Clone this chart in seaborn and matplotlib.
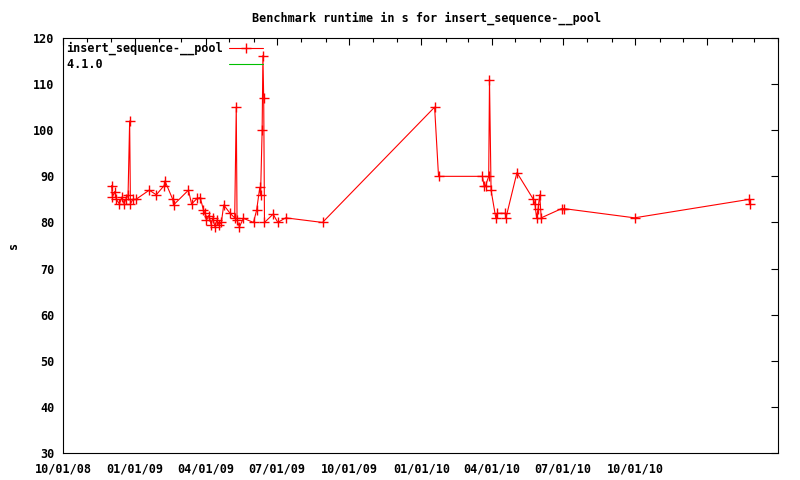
import pandas as pd
import numpy as np
import matplotlib
matplotlib.use("Agg")
import matplotlib.pyplot as plt
import matplotlib.dates as mdates
import seaborn as sns

# Data
run_dates = [
    "2008-12-02", "2008-12-03", "2008-12-06", "2008-12-08", "2008-12-12", "2008-12-15",
    "2008-12-18", "2008-12-20", "2008-12-23", "2008-12-25", "2008-12-26", "2008-12-29",
    "2009-01-02", "2009-01-19", "2009-01-28", "2009-02-07", "2009-02-08", "2009-02-18",
    "2009-02-19", "2009-03-10", "2009-03-14", "2009-03-21", "2009-03-25", "2009-03-29",
    "2009-03-31", "2009-04-02", "2009-04-05", "2009-04-08", "2009-04-10", "2009-04-13",
    "2009-04-15", "2009-04-18", "2009-04-21", "2009-04-24", "2009-05-02", "2009-05-08",
    "2009-05-10", "2009-05-11", "2009-05-14", "2009-05-19", "2009-06-01", "2009-06-05",
    "2009-06-09", "2009-06-10", "2009-06-12", "2009-06-13", "2009-06-14", "2009-06-15",
    "2009-06-26", "2009-07-02", "2009-07-12", "2009-08-28", "2010-01-18", "2010-01-23",
    "2010-03-20", "2010-03-22", "2010-03-24", "2010-03-28", "2010-03-29", "2010-03-31",
    "2010-04-06", "2010-04-08", "2010-04-18", "2010-04-19", "2010-05-03", "2010-05-24",
    "2010-05-26", "2010-05-28", "2010-05-30", "2010-06-01", "2010-06-03", "2010-06-29",
    "2010-07-02", "2010-09-30", "2011-02-23", "2011-02-24",
]
runtime_s = [
    88, 85.5, 86.7, 85, 84, 85.5,
    84, 85, 86, 102, 84, 85,
    85, 87, 86, 88, 89, 85,
    83.8, 87, 84, 85.2, 85.4, 82.8,
    82, 80.5, 81.5, 79.5, 81, 79,
    80.5, 79.5, 80, 83.8, 82, 81,
    105, 80.5, 79, 80.9, 80, 82.7,
    87.6, 86, 100, 116.2, 107, 80,
    81.8, 80, 81, 80, 105, 90,
    90, 88, 88, 90, 111, 87,
    81, 82, 82, 81, 90.8, 85,
    84, 81, 83, 86, 81, 83,
    83, 81, 85, 84,
]
v410_dates = []
v410_values = []

series_names = ["insert_sequence-__pool", "4.1.0"]

tick_dates = ["2008-10-01", "2009-01-01", "2009-04-01", "2009-07-01", "2009-10-01",
              "2010-01-01", "2010-04-01", "2010-07-01", "2010-10-01", "2011-01-01"]
tick_labels = ["10/01/08", "01/01/09", "04/01/09", "07/01/09", "10/01/09",
               "01/01/10", "04/01/10", "07/01/10", "10/01/10", ""]
y_ticks = [30, 40, 50, 60, 70, 80, 90, 100, 110, 120]

df = pd.DataFrame({"date": pd.to_datetime(run_dates), "runtime": runtime_s})

sns.set_style("white")
plt.rcParams["font.family"] = ["DejaVu Sans Mono"]
plt.rcParams["font.weight"] = "bold"
plt.rcParams["font.size"] = 8.5
plt.rcParams["text.color"] = "black"
plt.rcParams["axes.labelcolor"] = "black"

fig = plt.figure(figsize=(8, 4.8), dpi=100)
ax = fig.add_axes([63 / 800, 27 / 480, 715 / 800, 415 / 480])

# monospace font: pad labels so they stay left aligned next to the key samples
width = max(len(n) for n in series_names)
sns.lineplot(data=df, x="date", y="runtime", ax=ax, sort=False, color="red",
             linewidth=0.8, marker="+", markersize=7, markeredgewidth=1,
             markeredgecolor="red", label=series_names[0].ljust(width))
ax.plot(pd.to_datetime(v410_dates), v410_values, color="#00c000", linewidth=0.8,
        label=series_names[1].ljust(width))

ax.set_xlim(pd.Timestamp("2008-10-01"), pd.Timestamp("2011-04-01"))
ax.set_ylim(30, 120)
ax.set_xticks(pd.to_datetime(tick_dates))
ax.set_xticklabels(tick_labels)
ax.xaxis.set_minor_locator(mdates.MonthLocator())
ax.set_yticks(y_ticks)

ax.tick_params(axis="both", which="both", direction="in", top=True, right=True,
               colors="black", labelsize=8.5)
ax.tick_params(axis="both", which="major", length=5, width=0.8)
ax.tick_params(axis="x", which="minor", length=3, width=0.8)
ax.tick_params(axis="x", which="major", pad=7)
ax.tick_params(axis="y", which="major", pad=6)
for s in ax.spines.values():
    s.set_color("black")
    s.set_linewidth(0.8)

ax.set_xlabel("")
ax.set_ylabel("")
fig.text(13 / 800, 1 - 245 / 480, "s", rotation=90, ha="center", va="center")
fig.text(427 / 800, 1 - 18 / 480, "Benchmark runtime in s for insert_sequence-__pool",
         ha="center", va="center")

ax.legend(loc="upper left", frameon=False, markerfirst=False, handlelength=2.9,
          borderaxespad=0.2, labelspacing=0.25, handletextpad=0.5,
          borderpad=0.1)

fig.savefig("out.png", dpi=100)
